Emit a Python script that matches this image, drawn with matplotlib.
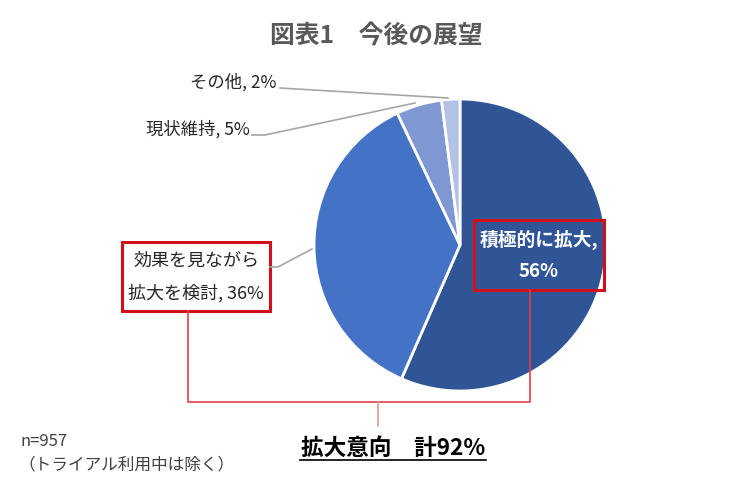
import matplotlib.pyplot as plt

plt.rcParams['font.family'] = ['Noto Sans CJK JP', 'DejaVu Sans']

labels = ['積極的に拡大', '効果を見ながら\n拡大を検討', '現状維持', 'その他']
values = [56, 36, 5, 2]
colors = ['#2F5597', '#4472C4', '#7F97D3', '#B4C2E6']
total_intent = 92
n_resp = 957

W, H = 752, 485
fig = plt.figure(figsize=(W / 100, H / 100), dpi=100)
ax = fig.add_axes([0, 0, 1, 1])

# y axis is inverted (pixel coords), so angles are mirrored: start -90, go ccw
ax.pie(values, colors=colors, startangle=-90, counterclock=True,
       center=(460, 246), radius=146,
       wedgeprops=dict(edgecolor='white', linewidth=2))
ax.set_xlim(0, W)
ax.set_ylim(H, 0)
ax.set_aspect('equal')
ax.axis('off')

ax.text(376, 36, '図表1　今後の展望', ha='center', va='center',
        fontsize=17.8, fontweight='bold', color='#595959')

# small slices, leader lines
ax.plot([280, 448], [89, 99], color='#A6A6A6', lw=1.2)
ax.text(276, 82, f'{labels[3]}, {values[3]}%', ha='right', va='center',
        fontsize=12.5, color='#262626')
ax.plot([252, 265, 415], [136, 136, 104], color='#A6A6A6', lw=1.2)
ax.text(250, 129, f'{labels[2]}, {values[2]}%', ha='right', va='center',
        fontsize=12.5, color='#262626')

# 36% label in red box
ax.plot([270, 278, 312], [268, 268, 250], color='#A6A6A6', lw=1.2)
ax.add_patch(plt.Rectangle((122, 243), 148, 69, fill=True, fc='white',
                           ec='#D0101A', lw=2.2))
ax.text(196, 261, '効果を見ながら', ha='center', va='center',
        fontsize=13, color='#262626')
ax.text(196, 293, f'拡大を検討, {values[1]}%', ha='center', va='center',
        fontsize=13, color='#262626')

# 56% label in red box
ax.add_patch(plt.Rectangle((474, 221), 130, 70, fill=False,
                           ec='#D0101A', lw=2.2))
ax.text(539, 240, f'{labels[0]},', ha='center', va='center',
        fontsize=13.5, fontweight='bold', color='white')
ax.text(539, 272, f'{values[0]}%', ha='center', va='center',
        fontsize=13.5, fontweight='bold', color='white')

# bracket joining both boxes
ax.plot([188, 188, 530, 530], [312, 403, 403, 291], color='#E0404A', lw=1.2)
ax.plot([378, 378], [403, 427], color='#D8A08A', lw=1.2)

ax.text(393, 448, f'拡大意向　計{total_intent}%', ha='center', va='center',
        fontsize=16.3, fontweight='bold', color='black')
ax.plot([300, 486], [461, 461], color='black', lw=1.2)

ax.text(20, 442, f'n={n_resp}', ha='left', va='center', fontsize=12,
        color='#404040')
ax.text(18, 465, '（トライアル利用中は除く）', ha='left', va='center',
        fontsize=12, color='#404040')

fig.savefig('out.png', dpi=100, facecolor='white')
